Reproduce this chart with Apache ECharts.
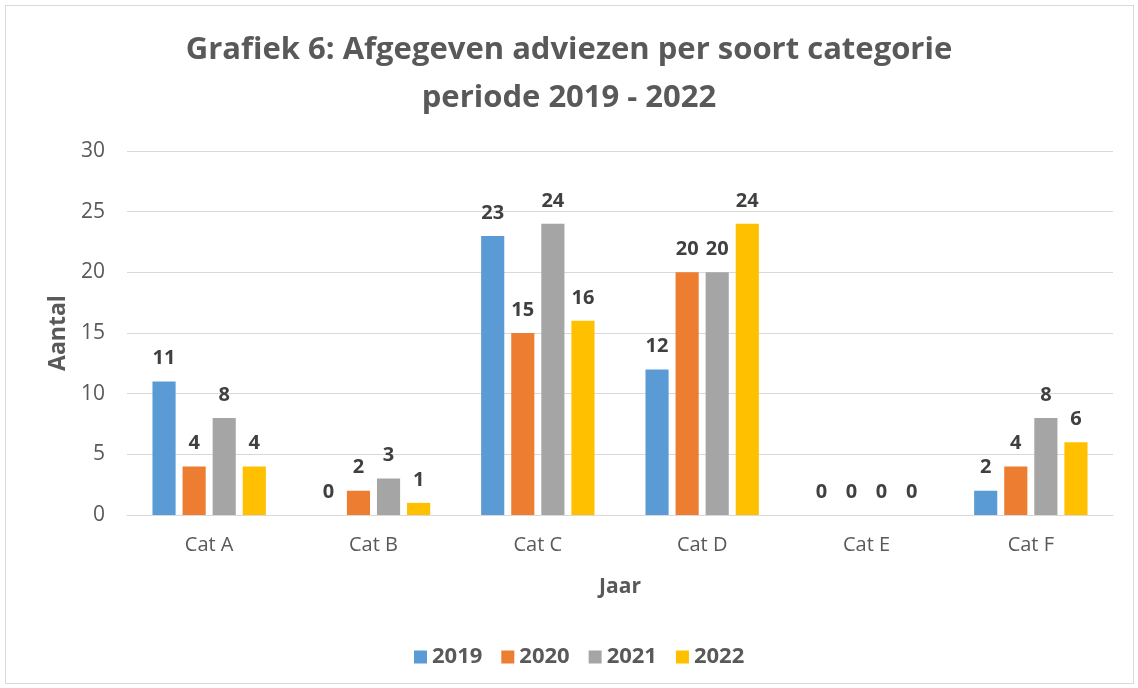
<!DOCTYPE html>
<html>
<head>
<meta charset="utf-8">
<script src="https://cdn.jsdelivr.net/npm/echarts@6/dist/echarts.min.js"></script>
<style>
  html, body { margin: 0; padding: 0; background: #fff; }
  #frame { position: absolute; left: 5px; top: 5px; width: 1127px; height: 677px; border: 1px solid #d9d9d9; }
  #main { width: 1138px; height: 688px; }
</style>
</head>
<body>
<div id="frame"></div>
<div id="main"></div>
<script>
const categories = ['Cat A', 'Cat B', 'Cat C', 'Cat D', 'Cat E', 'Cat F'];
const years = ['2019', '2020', '2021', '2022'];
const values2019 = [11, 0, 23, 12, 0, 2];
const values2020 = [4, 2, 15, 20, 0, 4];
const values2021 = [8, 3, 24, 20, 0, 8];
const values2022 = [4, 1, 16, 24, 0, 6];
const colors = ['#5b9bd5', '#ed7d31', '#a5a5a5', '#ffc000'];

const font = 'Open Sans';
const seriesData = [values2019, values2020, values2021, values2022];

var myChart = echarts.init(document.getElementById('main'));
var option = {
  animation: false,
  color: colors,
  title: {
    text: 'Grafiek 6: Afgegeven adviezen per soort categorie\nperiode 2019 - 2022',
    left: 'center',
    top: 21,
    padding: [5, 5, 5, 15],
    textStyle: { fontFamily: font, fontSize: 31, fontWeight: 'bold', color: '#595959', lineHeight: 48 }
  },
  legend: {
    bottom: 15,
    left: 409,
    itemWidth: 13,
    itemHeight: 13,
    itemGap: 19,
    icon: 'rect',
    textStyle: { fontFamily: font, fontSize: 22, fontWeight: 'bold', color: '#595959' },
    data: years
  },
  grid: { left: 127, right: 25, top: 151, bottom: 173 },
  xAxis: {
    type: 'category',
    data: categories,
    name: 'Jaar',
    nameLocation: 'middle',
    nameGap: 62,
    nameTextStyle: { fontFamily: font, fontSize: 21, fontWeight: 'bold', color: '#595959' },
    axisLine: { lineStyle: { color: '#d9d9d9' } },
    axisTick: { show: false },
    axisLabel: { fontFamily: font, fontSize: 20, color: '#595959', margin: 20 }
  },
  yAxis: {
    type: 'value',
    min: 0,
    max: 30,
    interval: 5,
    name: 'Aantal',
    nameLocation: 'middle',
    nameGap: 56,
    nameTextStyle: { fontFamily: font, fontSize: 23, fontWeight: 'bold', color: '#595959' },
    axisLabel: { fontFamily: font, fontSize: 21, color: '#595959', margin: 22 },
    splitLine: { lineStyle: { color: '#d9d9d9', width: 1 } }
  },
  series: seriesData.map((d, i) => ({
    name: years[i],
    type: 'bar',
    data: d,
    barGap: '30%',
    barCategoryGap: '31%',
    label: {
      show: true,
      position: 'top',
      distance: 13,
      fontFamily: font,
      fontSize: 20,
      fontWeight: 'bold',
      color: '#404040'
    }
  }))
};
option && myChart.setOption(option);
</script>
</body>
</html>
